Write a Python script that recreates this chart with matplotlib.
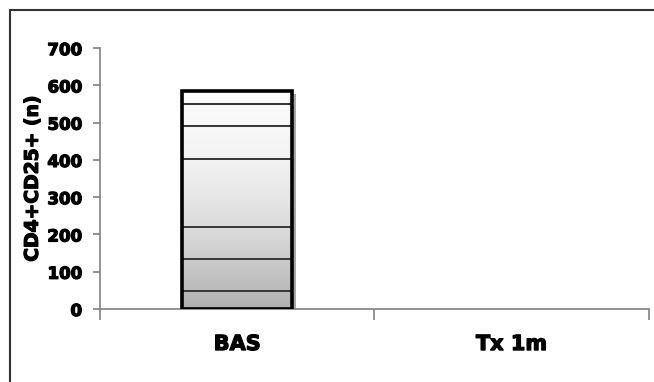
import numpy as np
import matplotlib
matplotlib.use("Agg")
import matplotlib.pyplot as plt
import matplotlib.patheffects as pe
from matplotlib.lines import Line2D
from matplotlib.patches import Rectangle
from matplotlib.colors import LinearSegmentedColormap

categories = ["BAS", "Tx 1m"]
segments = [
    [48, 0],
    [85, 0],
    [87, 0],
    [183, 0],
    [87, 0],
    [60, 0],
    [35, 0],
]
yticks = [0, 100, 200, 300, 400, 500, 600, 700]
ylabel = "CD4+CD25+ (n)"

fig = plt.figure(figsize=(6.54, 3.82), dpi=100)
ax = fig.add_axes([0.153, 0.191, 0.839, 0.683])

x = np.arange(len(categories))
width = 0.4
seg_arr = np.array(segments)
totals = seg_arr.sum(axis=0)
nz = totals > 0

# shadow
sh = ax.bar(x[nz], totals[nz], width=width, color="#a8a8a8", linewidth=0, zorder=1)
tr = matplotlib.transforms.offset_copy(ax.transData, fig=fig, x=4, y=-3, units="dots")
for p in sh.patches:
    p.set_transform(tr)

# gradient fill
grad = np.linspace(0, 1, 256).reshape(-1, 1)
cmap = LinearSegmentedColormap.from_list("g", ["#b0b0b0", "#d8d8d8", "#f2f2f2", "#fdfdfd"])
for xi, t in zip(x[nz], totals[nz]):
    im = ax.imshow(grad, extent=[xi - width / 2, xi + width / 2, 0, t], origin="lower",
                   cmap=cmap, aspect="auto", zorder=2)
    im.set_clip_path(Rectangle((xi - width / 2, 0), width, t, transform=ax.transData))

bottoms = np.zeros(len(categories))
for seg in seg_arr:
    m = seg > 0
    ax.bar(x[m], seg[m], width=width, bottom=bottoms[m], facecolor="none",
           edgecolor="#3a3a3a", linewidth=1.4, zorder=3)
    bottoms += seg

ax.bar(x[nz], totals[nz], width=width, facecolor="none", edgecolor="#000000",
       linewidth=2.6, zorder=4)

heavy = [pe.withStroke(linewidth=0.9, foreground="black")]

ax.set_xlim(-0.5, 1.5)
ax.set_ylim(0, 700)
ax.set_yticks(yticks)
ax.set_yticklabels([str(v) for v in yticks], fontsize=12, fontweight="bold")
ax.set_xticks([-0.5, 0.5, 1.5])
ax.set_xticklabels([])
ax.set_xticks(x, minor=True)
ax.set_xticklabels(categories, minor=True, fontsize=15, fontweight="bold")
for t in ax.get_yticklabels() + ax.get_xticklabels(minor=True):
    t.set_path_effects(heavy)
ax.tick_params(axis="x", which="major", length=8, color="#808080", width=1.2)
ax.tick_params(axis="x", which="minor", length=0, pad=18)
ax.tick_params(axis="y", length=5, color="#808080", width=1.2, pad=8)
yl = ax.set_ylabel(ylabel, fontsize=13.5, fontweight="bold", labelpad=4)
yl.set_path_effects(heavy)
for s in ["top", "right"]:
    ax.spines[s].set_visible(False)
for s in ["left", "bottom"]:
    ax.spines[s].set_color("#808080")
    ax.spines[s].set_linewidth(1.2)

fig.add_artist(Line2D([10 / 654, 10 / 654], [0, 1 - 10 / 382], transform=fig.transFigure,
                      color="#333333", linewidth=1.5))
fig.add_artist(Line2D([10 / 654, 1], [1 - 10 / 382, 1 - 10 / 382], transform=fig.transFigure,
                      color="#333333", linewidth=1.5))

fig.savefig("out.png", dpi=100)
